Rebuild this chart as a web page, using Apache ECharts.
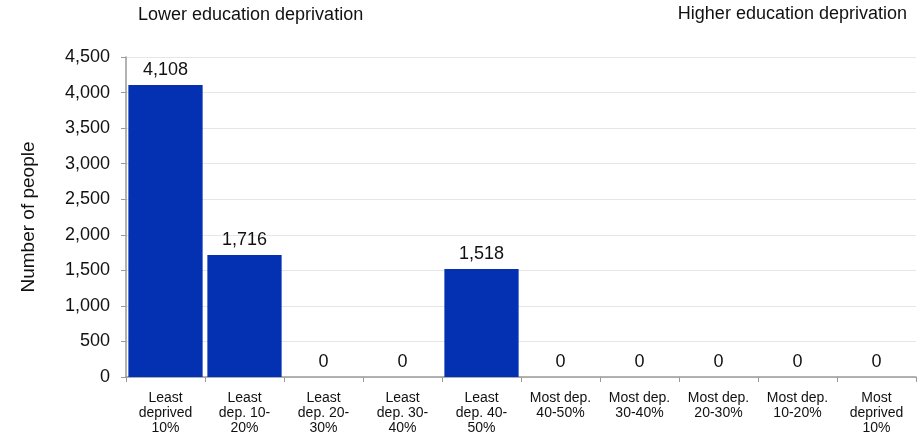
<!DOCTYPE html>
<html>
<head>
<meta charset="utf-8">
<script src="https://cdn.jsdelivr.net/npm/echarts@6/dist/echarts.min.js"></script>
<style>html,body{margin:0;padding:0;background:#fff;}#c{width:921px;height:441px;}</style>
</head>
<body>
<div id="c"></div>
<script>
var categories = ["Least\ndeprived\n10%", "Least\ndep. 10-\n20%", "Least\ndep. 20-\n30%", "Least\ndep. 30-\n40%", "Least\ndep. 40-\n50%", "Most dep.\n40-50%", "Most dep.\n30-40%", "Most dep.\n20-30%", "Most dep.\n10-20%", "Most\ndeprived\n10%"];
var values = [4108, 1716, 0, 0, 1518, 0, 0, 0, 0, 0];
var yTicks = {min: 0, max: 4500, interval: 500};
var leftNote = "Lower education deprivation";
var rightNote = "Higher education deprivation";
var yName = "Number of people";

function fmt(v){ return Number(v).toLocaleString('en-US'); }
var font = "'Liberation Sans', Arial, sans-serif";
var chart = echarts.init(document.getElementById('c'), null, {renderer: 'canvas'});
chart.setOption({
  animation: false,
  backgroundColor: '#fff',
  grid: {left: 126, right: 5, top: 57, bottom: 64, containLabel: false},
  graphic: [
    {type: 'text', left: 138, top: 6, style: {text: leftNote, font: '18px ' + font, fill: '#111'}},
    {type: 'text', right: 14, top: 5, style: {text: rightNote, font: '18px ' + font, fill: '#111'}}
  ],
  xAxis: {
    type: 'category',
    data: categories,
    axisLine: {lineStyle: {color: '#9a9a9a', width: 1.5}},
    axisTick: {show: true, alignWithLabel: false, length: 5, lineStyle: {color: '#9a9a9a'}},
    axisLabel: {fontFamily: font, fontSize: 14, color: '#111', lineHeight: 15, margin: 14, interval: 0}
  },
  yAxis: {
    type: 'value',
    min: yTicks.min, max: yTicks.max, interval: yTicks.interval,
    name: yName,
    nameLocation: 'middle',
    nameGap: 88,
    nameRotate: 90,
    nameTextStyle: {fontFamily: font, fontSize: 19, color: '#111'},
    axisLine: {show: true, lineStyle: {color: '#9a9a9a', width: 1.5}},
    axisTick: {show: true, length: 5, lineStyle: {color: '#9a9a9a'}},
    axisLabel: {fontFamily: font, fontSize: 18, color: '#111', margin: 16, formatter: function(v){return fmt(v);}},
    splitLine: {show: true, lineStyle: {color: '#e6e6e6', width: 1}}
  },
  series: [{
    type: 'bar',
    data: values,
    barCategoryGap: '6%',
    itemStyle: {color: '#0331B1'},
    label: {show: true, position: 'top', distance: 6, fontFamily: font, fontSize: 18, color: '#111', formatter: function(p){return fmt(p.value);}}
  }]
});
</script>
</body>
</html>
